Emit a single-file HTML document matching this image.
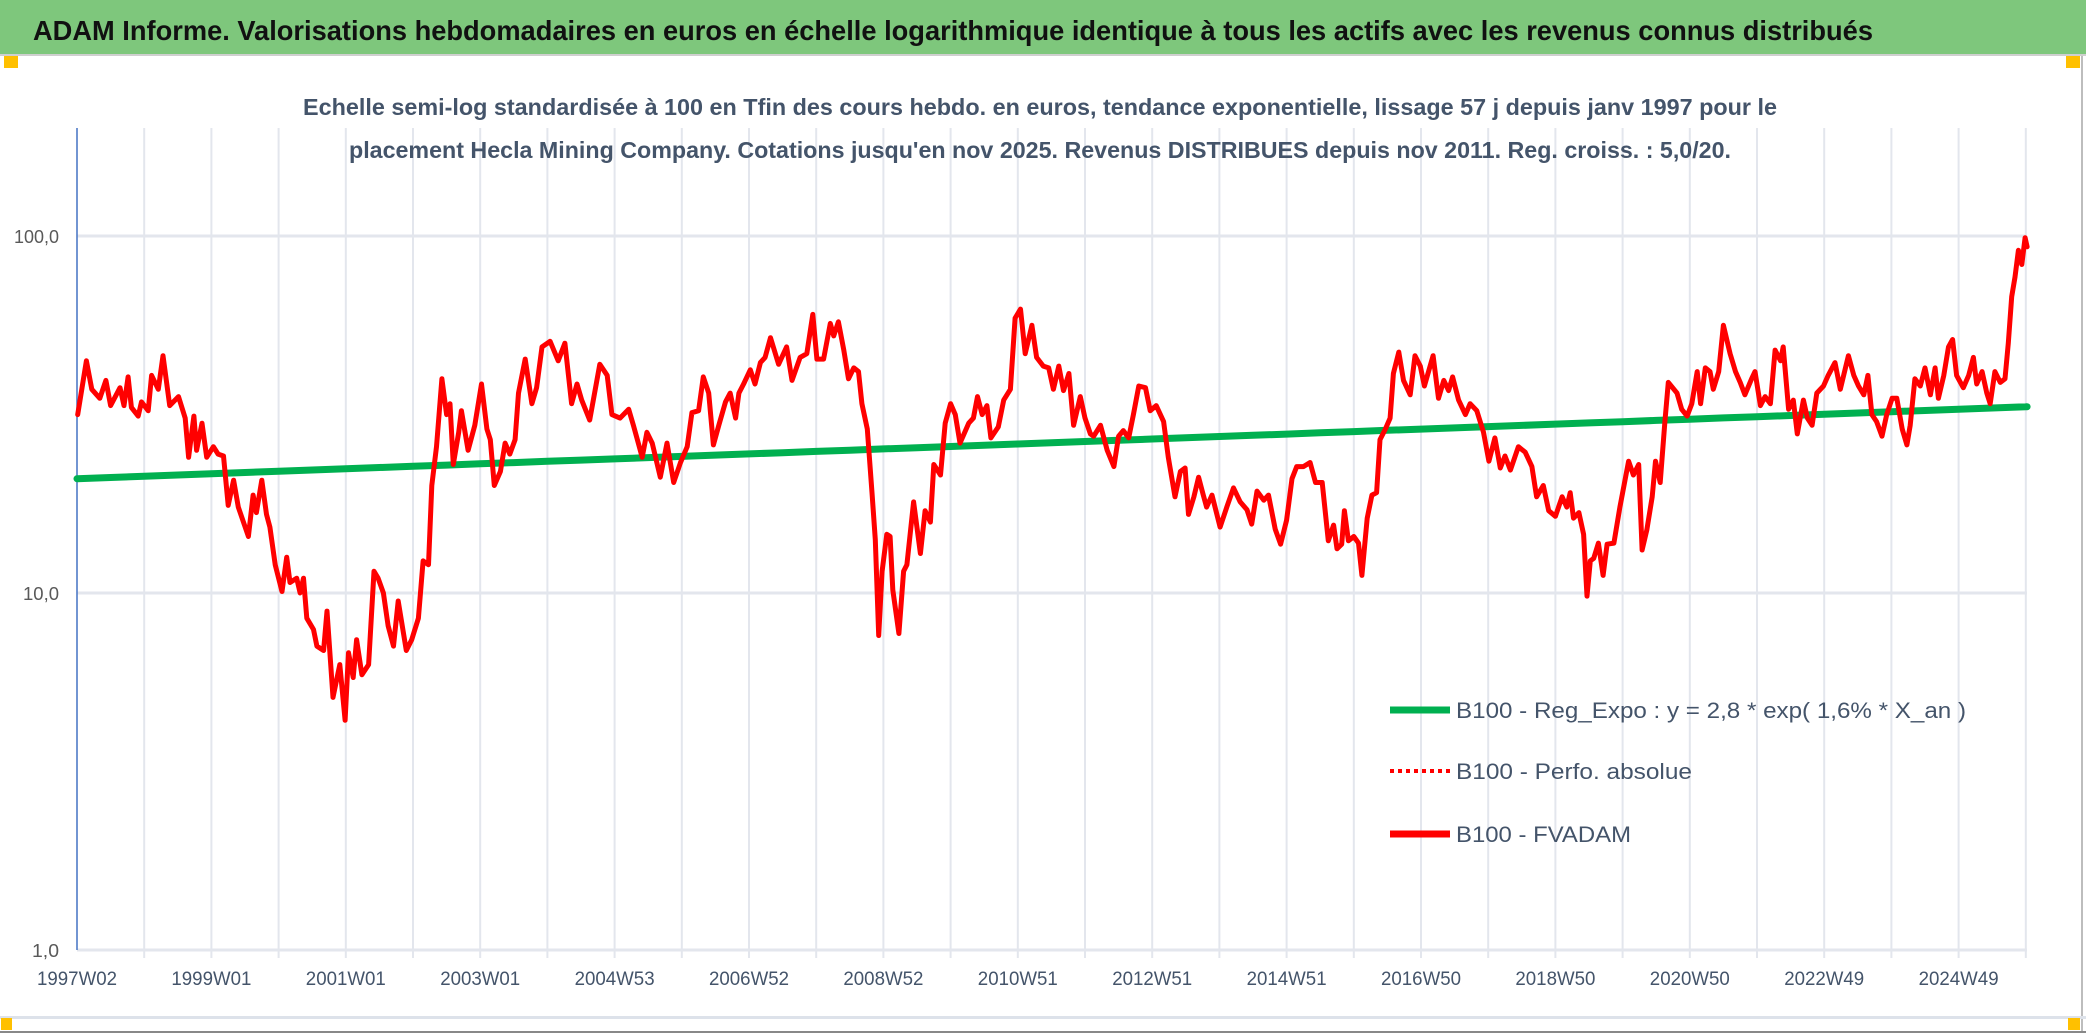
<!DOCTYPE html>
<html><head><meta charset="utf-8"><title>ADAM Informe</title>
<style>
html,body{margin:0;padding:0;background:#fff;}
svg{display:block;font-family:"Liberation Sans",Arial,sans-serif;}
</style></head>
<body>
<svg id="chart" width="2086" height="1033" viewBox="0 0 2086 1033" xmlns="http://www.w3.org/2000/svg">
<rect x="0" y="0" width="2086" height="1033" fill="#fff"/>
<rect x="0" y="0" width="2086" height="54" fill="#7ec77c"/>
<text x="33" y="40" font-size="28" font-weight="bold" fill="#111" textLength="1840" lengthAdjust="spacingAndGlyphs">ADAM Informe. Valorisations hebdomadaires en euros en échelle logarithmique identique à tous les actifs avec les revenus connus distribués</text>
<rect x="0" y="54" width="2086" height="2" fill="#cfcfcf"/>
<rect x="4" y="56" width="14" height="12" fill="#ffc000"/>
<rect x="2066" y="56" width="14" height="12" fill="#ffc000"/>
<rect x="2081" y="56" width="2" height="975" fill="#bdbdbd"/>
<rect x="0" y="1016" width="2086" height="3" fill="#dde2ea"/>
<rect x="0" y="1031" width="2086" height="2" fill="#888"/>
<rect x="1" y="1018" width="11" height="12" fill="#ffc000"/>
<rect x="2068" y="1018" width="12" height="12" fill="#ffc000"/>
<g id="grid"></g>
<text x="1040" y="115" font-size="23" font-weight="bold" fill="#44546a" text-anchor="middle" textLength="1474" lengthAdjust="spacingAndGlyphs">Echelle semi-log standardisée à 100 en Tfin des cours hebdo. en euros, tendance exponentielle, lissage 57 j depuis janv 1997 pour le</text>
<text x="1040" y="158" font-size="23" font-weight="bold" fill="#44546a" text-anchor="middle" textLength="1382" lengthAdjust="spacingAndGlyphs">placement Hecla Mining Company. Cotations jusqu'en nov 2025. Revenus DISTRIBUES depuis nov 2011. Reg. croiss. : 5,0/20.</text>
<g id="axes"></g>
<g id="series"></g>
<g id="legend">
<line x1="1390" y1="710" x2="1450" y2="710" stroke="#00b050" stroke-width="7"/>
<text x="1456" y="718" font-size="22" fill="#44546a" textLength="510" lengthAdjust="spacingAndGlyphs">B100 - Reg_Expo : y = 2,8 * exp( 1,6% *  X_an )</text>
<line x1="1390" y1="771" x2="1450" y2="771" stroke="#ff0000" stroke-width="4" stroke-dasharray="4,4"/>
<text x="1456" y="779" font-size="22" fill="#44546a" textLength="236" lengthAdjust="spacingAndGlyphs">B100 - Perfo. absolue</text>
<line x1="1390" y1="834" x2="1450" y2="834" stroke="#ff0000" stroke-width="7"/>
<text x="1456" y="842" font-size="22" fill="#44546a" textLength="175" lengthAdjust="spacingAndGlyphs">B100 - FVADAM</text>
</g>
</svg>
<script>
const xTickLabels = ["1997W02","1999W01","2001W01","2003W01","2004W53","2006W52","2008W52","2010W51","2012W51","2014W51","2016W50","2018W50","2020W50","2022W49","2024W49"];
const yTickValues = [1, 10, 100];
const yTickLabels = ["1,0","10,0","100,0"];
const regStart = 20.9;
const regRate = 0.016;
const regEndYear = 2026.04;
const dates = [
1997.03,1997.16,1997.24,1997.36,1997.45,1997.52,1997.66,1997.72,1997.78,1997.83,1997.93,1997.98,1998.08,1998.13,1998.23,1998.30,1998.40,1998.53,1998.63,1998.68,1998.76,1998.80,1998.88,1998.95,1999.05,1999.12,1999.20,1999.27,1999.35,1999.42,1999.57,1999.64,1999.69,1999.77,1999.84,1999.89,1999.97,2000.07,2000.14,2000.19,2000.29,2000.34,2000.39,2000.44,2000.54,2000.59,2000.69,2000.74,2000.83,2000.93,2001.01,2001.06,2001.13,2001.18,2001.26,2001.36,2001.44,2001.50,2001.58,2001.65,2001.73,2001.80,2001.92,2002.00,2002.10,2002.17,2002.25,2002.30,2002.37,2002.45,2002.52,2002.57,2002.62,2002.70,2002.74,2002.84,2002.94,2003.04,2003.12,2003.17,2003.23,2003.32,2003.39,2003.46,2003.54,2003.59,2003.69,2003.79,2003.86,2003.94,2004.06,2004.18,2004.28,2004.38,2004.46,2004.53,2004.65,
2004.80,2004.91,2004.98,2005.10,2005.23,2005.30,2005.43,2005.50,2005.58,2005.70,2005.80,2005.90,2006.00,2006.10,2006.17,2006.27,2006.34,2006.42,2006.49,2006.57,2006.67,2006.74,2006.82,2006.87,2006.94,2007.04,2007.11,2007.19,2007.26,2007.34,2007.46,2007.58,2007.66,2007.78,2007.88,2007.97,2008.03,2008.13,2008.23,2008.28,2008.35,2008.43,2008.50,2008.58,2008.65,2008.70,2008.78,2008.85,2008.90,2008.95,2009.00,2009.07,2009.12,2009.16,2009.25,2009.32,2009.37,2009.47,2009.57,2009.64,2009.72,2009.77,2009.87,2009.94,2010.02,2010.09,2010.16,2010.29,2010.36,2010.42,2010.49,2010.56,2010.62,2010.73,2010.81,2010.91,2010.98,2011.06,2011.13,2011.23,2011.30,2011.40,2011.48,2011.55,2011.63,2011.70,2011.78,2011.85,2011.95,2012.02,2012.10,
2012.15,2012.25,2012.35,2012.45,2012.52,2012.59,2012.67,2012.74,2012.82,2012.92,2012.99,2013.08,2013.19,2013.26,2013.36,2013.44,2013.51,2013.56,2013.64,2013.71,2013.78,2013.83,2013.91,2014.03,2014.13,2014.23,2014.33,2014.43,2014.50,2014.58,2014.68,2014.75,2014.85,2014.93,2015.02,2015.10,2015.17,2015.27,2015.37,2015.45,2015.55,2015.64,2015.72,2015.77,2015.84,2015.88,2015.94,2016.02,2016.09,2016.14,2016.22,2016.29,2016.36,2016.41,2016.49,2016.56,2016.61,2016.69,2016.76,2016.86,2016.93,2017.01,2017.07,2017.20,2017.28,2017.36,2017.43,2017.49,2017.58,2017.68,2017.75,2017.85,2017.95,2018.03,2018.12,2018.20,2018.27,2018.35,2018.47,2018.57,2018.67,2018.74,2018.84,2018.92,2019.02,2019.12,2019.19,2019.24,2019.29,2019.37,2019.44,2019.49,2019.54,
2019.59,2019.66,2019.73,2019.79,2019.89,2019.98,2020.11,2020.18,2020.26,2020.31,2020.38,2020.46,2020.51,2020.58,2020.65,2020.70,2020.83,2020.90,2020.98,2021.05,2021.13,2021.18,2021.25,2021.32,2021.37,2021.45,2021.52,2021.62,2021.70,2021.77,2021.84,2021.94,2021.99,2022.07,2022.14,2022.22,2022.29,2022.37,2022.41,2022.49,2022.56,2022.62,2022.71,2022.77,2022.84,2022.91,2023.01,2023.08,2023.18,2023.26,2023.38,2023.46,2023.53,2023.61,2023.67,2023.73,2023.80,2023.88,2023.95,2024.03,2024.10,2024.18,2024.25,2024.30,2024.37,2024.45,2024.52,2024.60,2024.67,2024.72,2024.80,2024.87,2024.93,2024.99,2025.09,2025.17,2025.24,2025.29,2025.37,2025.44,2025.49,2025.56,2025.64,2025.71,2025.76,2025.81,2025.86,2025.91,2025.96,2026.01,2026.04
];
const fvadam = [
31.6,44.7,37.2,35.1,39.4,33.5,37.6,33.5,40.3,33.1,31.3,34.3,32.4,40.7,37.2,46.2,33.5,35.5,30.9,24.0,31.3,25.1,29.9,24.0,25.7,24.5,24.2,17.6,20.7,17.4,14.4,18.8,16.8,20.7,16.6,15.3,12.0,10.1,12.6,10.7,11.0,10.0,11.0,8.5,7.9,7.1,6.9,8.9,5.1,6.3,4.4,6.8,5.8,7.4,5.9,6.3,11.5,11.0,10.0,8.1,7.1,9.5,6.9,7.4,8.5,12.3,12.0,20.0,25.7,39.8,31.6,33.9,22.9,28.2,32.4,25.1,29.5,38.5,28.8,26.9,20.0,21.9,26.3,24.5,26.9,36.3,45.2,33.9,37.6,48.9,50.7,44.7,50.1,33.9,38.5,34.7,30.5,
43.7,40.7,31.6,30.9,32.7,29.5,24.0,28.2,26.3,21.1,26.3,20.4,23.2,25.7,32.0,32.4,40.3,36.3,26.0,29.5,34.3,36.3,30.9,36.3,38.5,42.2,38.5,44.2,45.7,51.9,43.7,48.9,39.4,45.7,46.8,60.3,45.2,45.2,56.9,52.5,57.5,47.9,39.8,42.7,41.7,33.9,28.8,19.1,14.1,7.6,11.5,14.6,14.4,10.2,7.7,11.5,12.0,18.0,12.9,17.0,15.8,22.9,21.4,29.9,33.9,31.6,26.3,29.9,30.9,35.5,31.6,33.5,27.2,29.2,34.7,37.2,58.9,62.4,46.8,56.2,45.7,43.2,42.7,37.2,43.2,36.9,41.2,29.5,35.5,30.9,27.9,
27.5,29.5,25.1,22.6,27.5,28.5,27.2,31.6,38.0,37.6,32.4,33.5,30.2,24.0,18.6,21.9,22.4,16.6,18.6,21.1,18.8,17.4,18.8,15.3,17.4,19.7,18.0,17.1,15.6,19.3,18.2,18.8,15.1,13.7,16.0,20.9,22.6,22.6,23.2,20.4,20.4,14.0,15.5,13.3,13.7,17.0,14.0,14.4,13.8,11.2,16.2,18.8,19.1,26.9,28.8,30.9,41.2,47.3,39.4,35.9,46.2,43.2,38.0,46.2,35.1,39.4,36.9,40.3,34.7,31.6,33.9,32.4,28.2,23.4,27.2,22.4,24.2,22.1,25.7,24.8,22.6,18.6,20.0,17.0,16.4,18.6,17.4,19.1,16.2,16.8,14.6,9.8,12.3,
12.5,13.8,11.2,13.7,13.8,17.4,23.4,21.4,22.9,13.2,15.0,18.6,23.4,20.4,30.2,38.9,36.3,32.7,31.3,33.9,41.7,33.9,42.7,41.7,37.2,41.7,56.2,46.8,41.7,38.9,35.9,39.8,41.7,33.5,35.5,33.9,47.9,44.7,48.9,32.7,34.7,27.9,34.7,30.9,29.5,36.3,38.0,40.7,44.2,37.2,46.2,40.7,38.0,35.9,40.7,31.6,30.2,27.5,31.6,35.1,35.1,28.8,26.0,29.5,39.8,38.0,42.7,35.9,42.7,35.1,40.7,48.9,51.3,40.7,37.6,40.7,45.7,38.5,41.7,36.3,33.9,41.7,38.9,39.8,50.1,67.6,76.7,91.2,83.2,98.9,93.3
];

const NS = "http://www.w3.org/2000/svg";
const plotL = 77, plotR = 2027, plotTop = 128;
const yearStart = 1997.02, pxPerYear = 67.2;
const yTop = 236, pxPerDecade = 357;
function xScale(year){ return plotL + (year - yearStart) * pxPerYear; }
function yScale(v){ return yTop + (2 - Math.log10(v)) * pxPerDecade; }
function mk(tag, attrs, parent){
  const el = document.createElementNS(NS, tag);
  for (const k in attrs) el.setAttribute(k, attrs[k]);
  parent.appendChild(el);
  return el;
}
const grid = document.getElementById('grid');
const axes = document.getElementById('axes');
const series = document.getElementById('series');
const baseY = yScale(1);

// vertical yearly gridlines
for (let k = 1; k <= 29; k++) {
  const x = xScale(yearStart + k);
  const ln = mk('line', {x1:x, y1:plotTop, x2:x, y2:baseY, stroke:'#e3e6ed', 'stroke-width':2}, grid);
  
  
  const tk = mk('line', {x1:x, y1:baseY, x2:x, y2:baseY+8, stroke:'#e3e6ed', 'stroke-width':2}, grid);
  
  
}
// horizontal gridlines + y labels
yTickValues.forEach((v, i) => {
  const y = yScale(v);
  const ln = mk('line', {x1:plotL, y1:y, x2:plotR, y2:y, stroke:'#e3e6ed', 'stroke-width':3}, grid);
  
  
  const t = mk('text', {x:plotL-18, y:y+7, 'font-size':18, fill:'#595959', 'text-anchor':'end', textLength: yTickLabels[i].length*9, lengthAdjust:'spacingAndGlyphs'}, axes);
  t.textContent = yTickLabels[i];
  
  
});
// y axis line
const yAxis = mk('line', {x1:plotL, y1:plotTop, x2:plotL, y2:baseY, stroke:'#4472c4', 'stroke-width':1.5}, axes);


// x labels
xTickLabels.forEach((lab, i) => {
  const x = xScale(yearStart + 2*i);
  const t = mk('text', {x:x, y:985, 'font-size':19, fill:'#44546a', 'text-anchor':'middle', textLength:80, lengthAdjust:'spacingAndGlyphs'}, axes);
  t.textContent = lab;
  
  
});
// regression line
let gd = '';
for (let yr = yearStart; yr <= regEndYear + 1e-9; yr += 0.5) {
  const v = regStart * Math.exp(regRate * (yr - yearStart));
  gd += (gd ? 'L' : 'M') + xScale(yr).toFixed(1) + ',' + yScale(v).toFixed(1);
}
gd += 'L' + xScale(regEndYear).toFixed(1) + ',' + yScale(regStart*Math.exp(regRate*(regEndYear-yearStart))).toFixed(1);
const reg = mk('path', {d:gd, fill:'none', stroke:'#00b050', 'stroke-width':7, 'stroke-linecap':'round'}, series);


// FVADAM line
let rd = '';
dates.forEach((d, i) => {
  rd += (i ? 'L' : 'M') + xScale(d).toFixed(1) + ',' + yScale(fvadam[i]).toFixed(1);
});
const red = mk('path', {d:rd, fill:'none', stroke:'#ff0000', 'stroke-width':5, 'stroke-linejoin':'round', 'stroke-linecap':'round'}, series);


</script>
</body></html>
